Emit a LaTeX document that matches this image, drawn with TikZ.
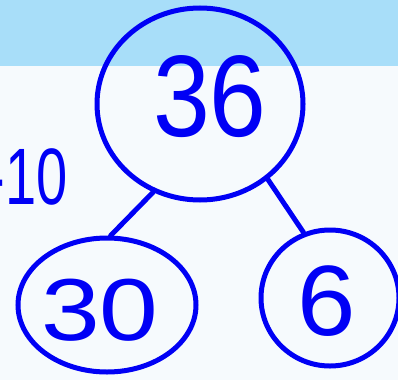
\documentclass[tikz,border=0pt]{standalone}
\usepackage{fontspec}
\setmainfont{Liberation Sans}
\usetikzlibrary{shapes.geometric}
\definecolor{pen}{RGB}{0,0,245}
\definecolor{band}{RGB}{168,222,249}
\definecolor{paper}{RGB}{246,250,253}
\begin{document}
\begin{tikzpicture}[x=1pt,y=-1pt,
  bond/.style={draw=pen, line width=5pt, ellipse, inner sep=0pt},
  link/.style={draw=pen, line width=5pt, line cap=round},
  digits/.style={text=pen, inner sep=0pt}]
\useasboundingbox (0,0) rectangle (398,380);
\fill[paper] (0,0) rectangle (398,380);
\fill[band] (0,0) rectangle (398,66);
\node[bond, minimum width=206pt, minimum height=192pt] (top) at (200,104) {};
\node[bond, minimum width=178pt, minimum height=134pt] (left) at (107,305) {};
\node[bond, minimum width=138pt, minimum height=136pt] (right) at (330,298) {};
\node[digits, xscale=0.88, font=\fontsize{116}{116}\selectfont] (t36) at (210,97) {36};
\node[digits, xscale=1.2, font=\fontsize{88}{88}\selectfont] (t30) at (100,310) {30};
\node[digits, xscale=1.05, font=\fontsize{100}{100}\selectfont] (t6) at (327,301) {6};
\node[digits, xscale=0.7, anchor=east, font=\fontsize{80}{80}\selectfont] (tm) at (68,177) {-10};
\draw[link] (top.242) -- (left.87);
\draw[link] (top.312) -- (right.112);
\end{tikzpicture}
\end{document}
